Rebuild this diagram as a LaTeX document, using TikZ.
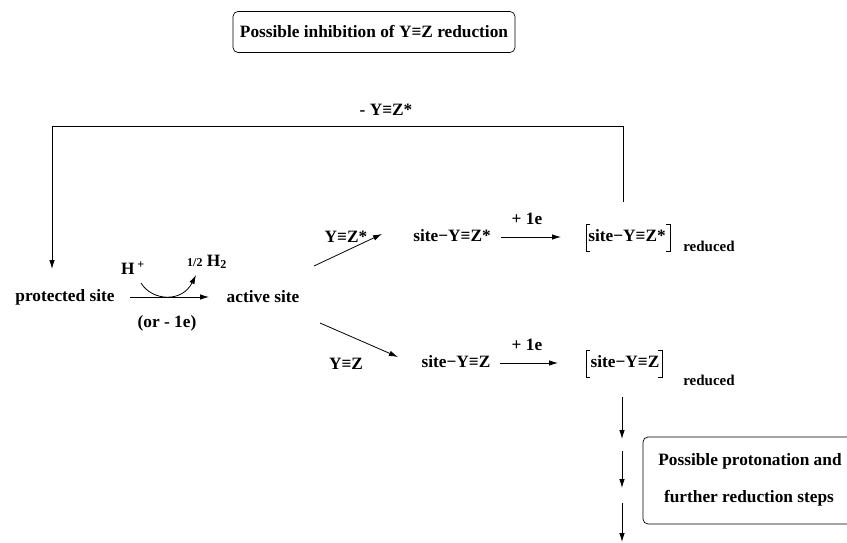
\documentclass[tikz,border=0pt]{standalone}
\usepackage{fontspec}
\setmainfont{Liberation Serif}
\usetikzlibrary{arrows.meta}
\begin{document}
\begin{tikzpicture}[x=1pt,y=-1pt,
  txt/.style={font=\fontsize{17.3}{20}\selectfont\bfseries, inner sep=0pt},
  smalltxt/.style={font=\fontsize{15}{17}\selectfont\bfseries, inner sep=0pt},
  conn/.style={line width=0.8pt, -{Latex[length=9pt,width=5.5pt]}},
  plain/.style={line width=0.8pt},
  boxed/.style={draw, line width=0.7pt, rounded corners=5pt}]
\useasboundingbox (0,0) rectangle (847,543);

% top box
\node[txt, boxed, minimum width=282pt, minimum height=41pt] (top) at (374,32) {Possible inhibition of Y≡Z reduction};

% feedback label
\node[txt] (fb) at (386,110) {- Y≡Z*};

% main species
\node[txt] (ps) at (65,297) {protected site};
\node[txt] (as) at (263,297) {active site};
\node[txt] (hp) at (133,268) {H\,\textsuperscript{+}};
\node[txt] (h2) at (207,262) {{\fontsize{12}{14}\selectfont 1/2} H\textsubscript{2}};
\node[txt] (or) at (167,323) {(or - 1e)};

\coordinate (ra) at (130,297);
\coordinate (rb) at (209,297);
\draw[conn] (ra) -- (rb);
\coordinate (ca) at (141,283);
\coordinate (cb) at (196,275);
\draw[conn] (ca) .. controls (152,301) and (182,303) .. (cb);

% upper branch
\coordinate (ua) at (314,266);
\coordinate (ub) at (382,234);
\draw[conn] (ua) -- (ub);
\node[txt] (yzs) at (346,237) {Y≡Z*};
\node[txt] (s1) at (452,236) {site−Y≡Z*};
\coordinate (e1a) at (501,237);
\coordinate (e1b) at (561,237);
\draw[conn] (e1a) -- (e1b);
\node[txt] (pe1) at (527,219) {+ 1e};
\node[txt] (r1) at (627,236) {site−Y≡Z*};
\draw[plain] (590,224) -- (586,224) -- (586,251) -- (590,251);
\draw[plain] (666,224) -- (670,224) -- (670,251) -- (666,251);
\node[smalltxt] (red1) at (709,246) {reduced};

% lower branch
\coordinate (la) at (320,323);
\coordinate (lb) at (398,357);
\draw[conn] (la) -- (lb);
\node[txt] (yz) at (346,364) {Y≡Z};
\node[txt] (s2) at (456,362) {site−Y≡Z};
\coordinate (e2a) at (500,363);
\coordinate (e2b) at (558,363);
\draw[conn] (e2a) -- (e2b);
\node[txt] (pe2) at (527,345) {+ 1e};
\node[txt] (r2) at (625,362) {site−Y≡Z};
\draw[plain] (590,350) -- (586,350) -- (586,377) -- (590,377);
\draw[plain] (658,350) -- (662,350) -- (662,377) -- (658,377);
\node[smalltxt] (red2) at (709,380) {reduced};

% feedback loop
\coordinate (fbs) at (623,202);
\coordinate (fbe) at (52,269);
\draw[conn] (fbs) |- (52,126) -- (fbe);

% downward steps
\coordinate (d1) at (622,397);
\coordinate (d2) at (622,439);
\coordinate (d3) at (622,451);
\coordinate (d4) at (622,488);
\coordinate (d5) at (622,503);
\coordinate (d6) at (622,542);
\draw[conn] (d1) -- (d2);
\draw[conn] (d3) -- (d4);
\draw[conn] (d5) -- (d6);

% bottom box
\draw[line width=0.7pt, rounded corners=5pt] (860,437) -- (643,437) -- (643,524) -- (860,524);
\node[txt] (bt1) at (750,461) {Possible protonation and};
\node[txt] (bt2) at (749,498) {further reduction steps};
\end{tikzpicture}
\end{document}
